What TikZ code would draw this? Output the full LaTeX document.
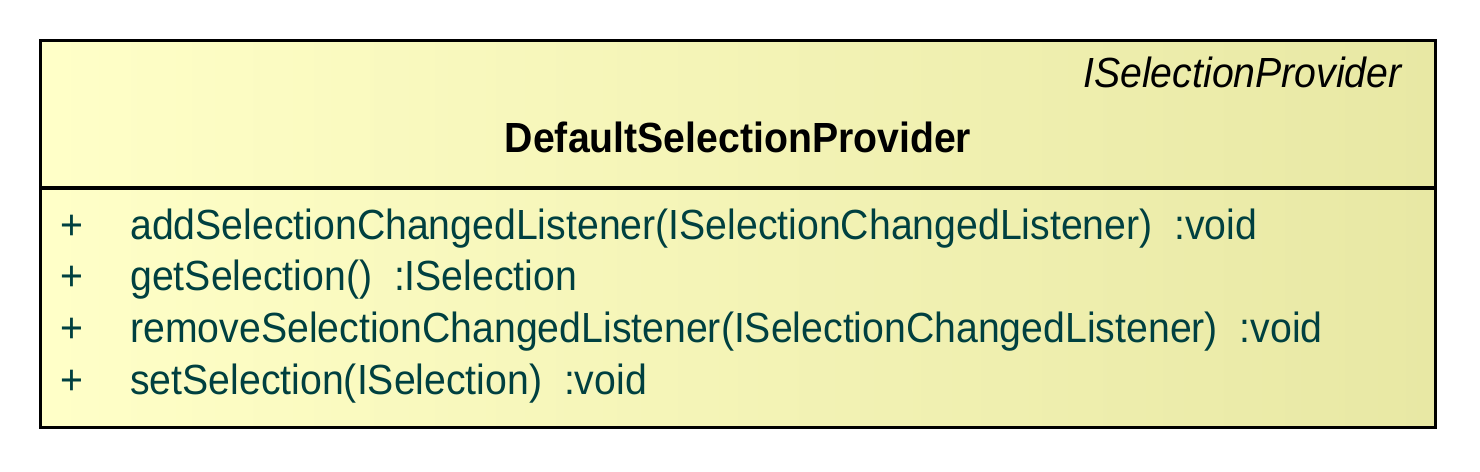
\documentclass[tikz,border=0pt]{standalone}
\usepackage{fontspec}
\setmainfont[FakeStretch=0.93]{Liberation Sans}
\usetikzlibrary{positioning}

\definecolor{umlfill}{RGB}{255,255,200}
\definecolor{umlfillr}{RGB}{232,232,164}
\definecolor{umltext}{RGB}{0,64,64}

\begin{document}
\begin{tikzpicture}[
    x=0.02cm, y=-0.02cm,
    part/.style={draw, line width=1.7pt, left color=umlfill, middle color=umlfill, right color=umlfillr, minimum width=27.92cm, inner sep=0pt, outer sep=0pt},
    stereo/.style={anchor=base east, inner sep=0pt, font=\fontsize{24}{28}\selectfont\itshape},
    title/.style={anchor=base, inner sep=0pt, font=\fontsize{24}{28}\selectfont\bfseries},
    member/.style={anchor=base west, inner sep=0pt, text=umltext, font=\fontsize{24}{28}\selectfont}
  ]
    \useasboundingbox (0,0) rectangle (1480,472);
    \node[part, minimum height=2.96cm] (head) at (738,114) {};
    \node[part, minimum height=4.8cm] (body) at (738,308) {};
    \node[stereo] (stype) at (1402,88) {ISelectionProvider};
    \node[title] (cname) at (738,153) {DefaultSelectionProvider};
    \node[member] (v1) at (60,240) {+};
    \node[member] (v2) at (60,291) {+};
    \node[member] (v3) at (60,343) {+};
    \node[member] (v4) at (60,395) {+};
    \node[member] (op1) at (130,240) {addSelectionChangedListener(ISelectionChangedListener)~~:void};
    \node[member] (op2) at (130,291) {getSelection()~~:ISelection};
    \node[member] (op3) at (130,343) {removeSelectionChangedListener(ISelectionChangedListener)~~:void};
    \node[member] (op4) at (130,395) {setSelection(ISelection)~~:void};
  \end{tikzpicture}
\end{document}
